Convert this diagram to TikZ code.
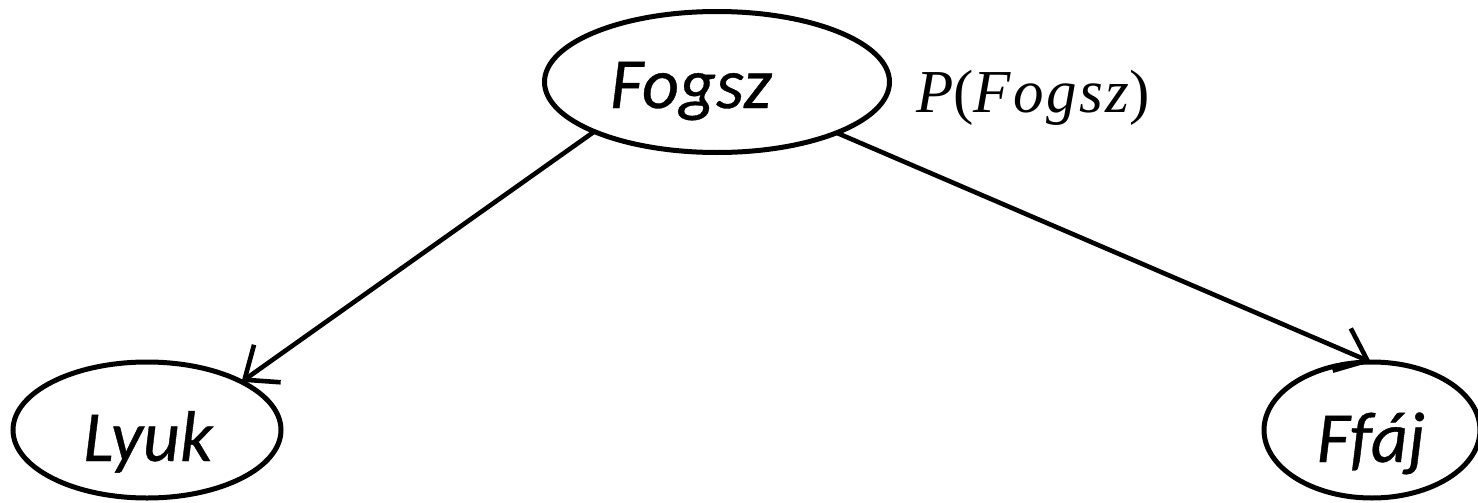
\documentclass[tikz,border=0pt]{standalone}
\usepackage{fontspec}
\setmainfont{Carlito}
\newfontfamily\namefont[FakeBold=0.5]{Carlito}
\newfontfamily\probfont[LetterSpace=4]{Liberation Serif}
\usetikzlibrary{shapes.geometric,arrows.meta}
\begin{document}
\begin{tikzpicture}[x=0.5pt,y=-0.5pt,
  varnode/.style={ellipse,draw,line width=2.5pt,inner sep=0pt,outer sep=0pt},
  vartext/.style={anchor=base,inner sep=0pt,font=\fontsize{36}{40}\namefont\itshape},
  probtext/.style={anchor=base west,inner sep=0pt,font=\fontsize{30.5}{34}\probfont},
  edge/.style={line width=2.3pt,-{Straight Barb[length=14pt,width=23pt,line width=2.3pt]}}]
\clip (0,0) rectangle (1478,503);

% variable ellipses
\node[varnode,minimum width=172.5pt,minimum height=70.5pt] (Fogsz) at (717,82) {};
\node[varnode,minimum width=134pt,minimum height=68pt] (Lyuk) at (147,430) {};
\node[varnode,minimum width=108pt,minimum height=68pt] (Ffaj) at (1372,430) {};

% variable names
\node[vartext] (FogszName) at (691,108) {Fogsz};
\node[vartext] (LyukName) at (148,461) {Lyuk};
\node[vartext] (FfajName) at (1371,462) {Ffáj};

% prior of the root
\node[probtext] (FogszProb) at (916,112) {{\itshape P}({\itshape Fogsz})};

% causal links
\draw[edge] (Fogsz.202) -- (Lyuk.27);
\draw[edge] (Fogsz.337.5) -- (Ffaj.91.6);
\end{tikzpicture}
\end{document}
